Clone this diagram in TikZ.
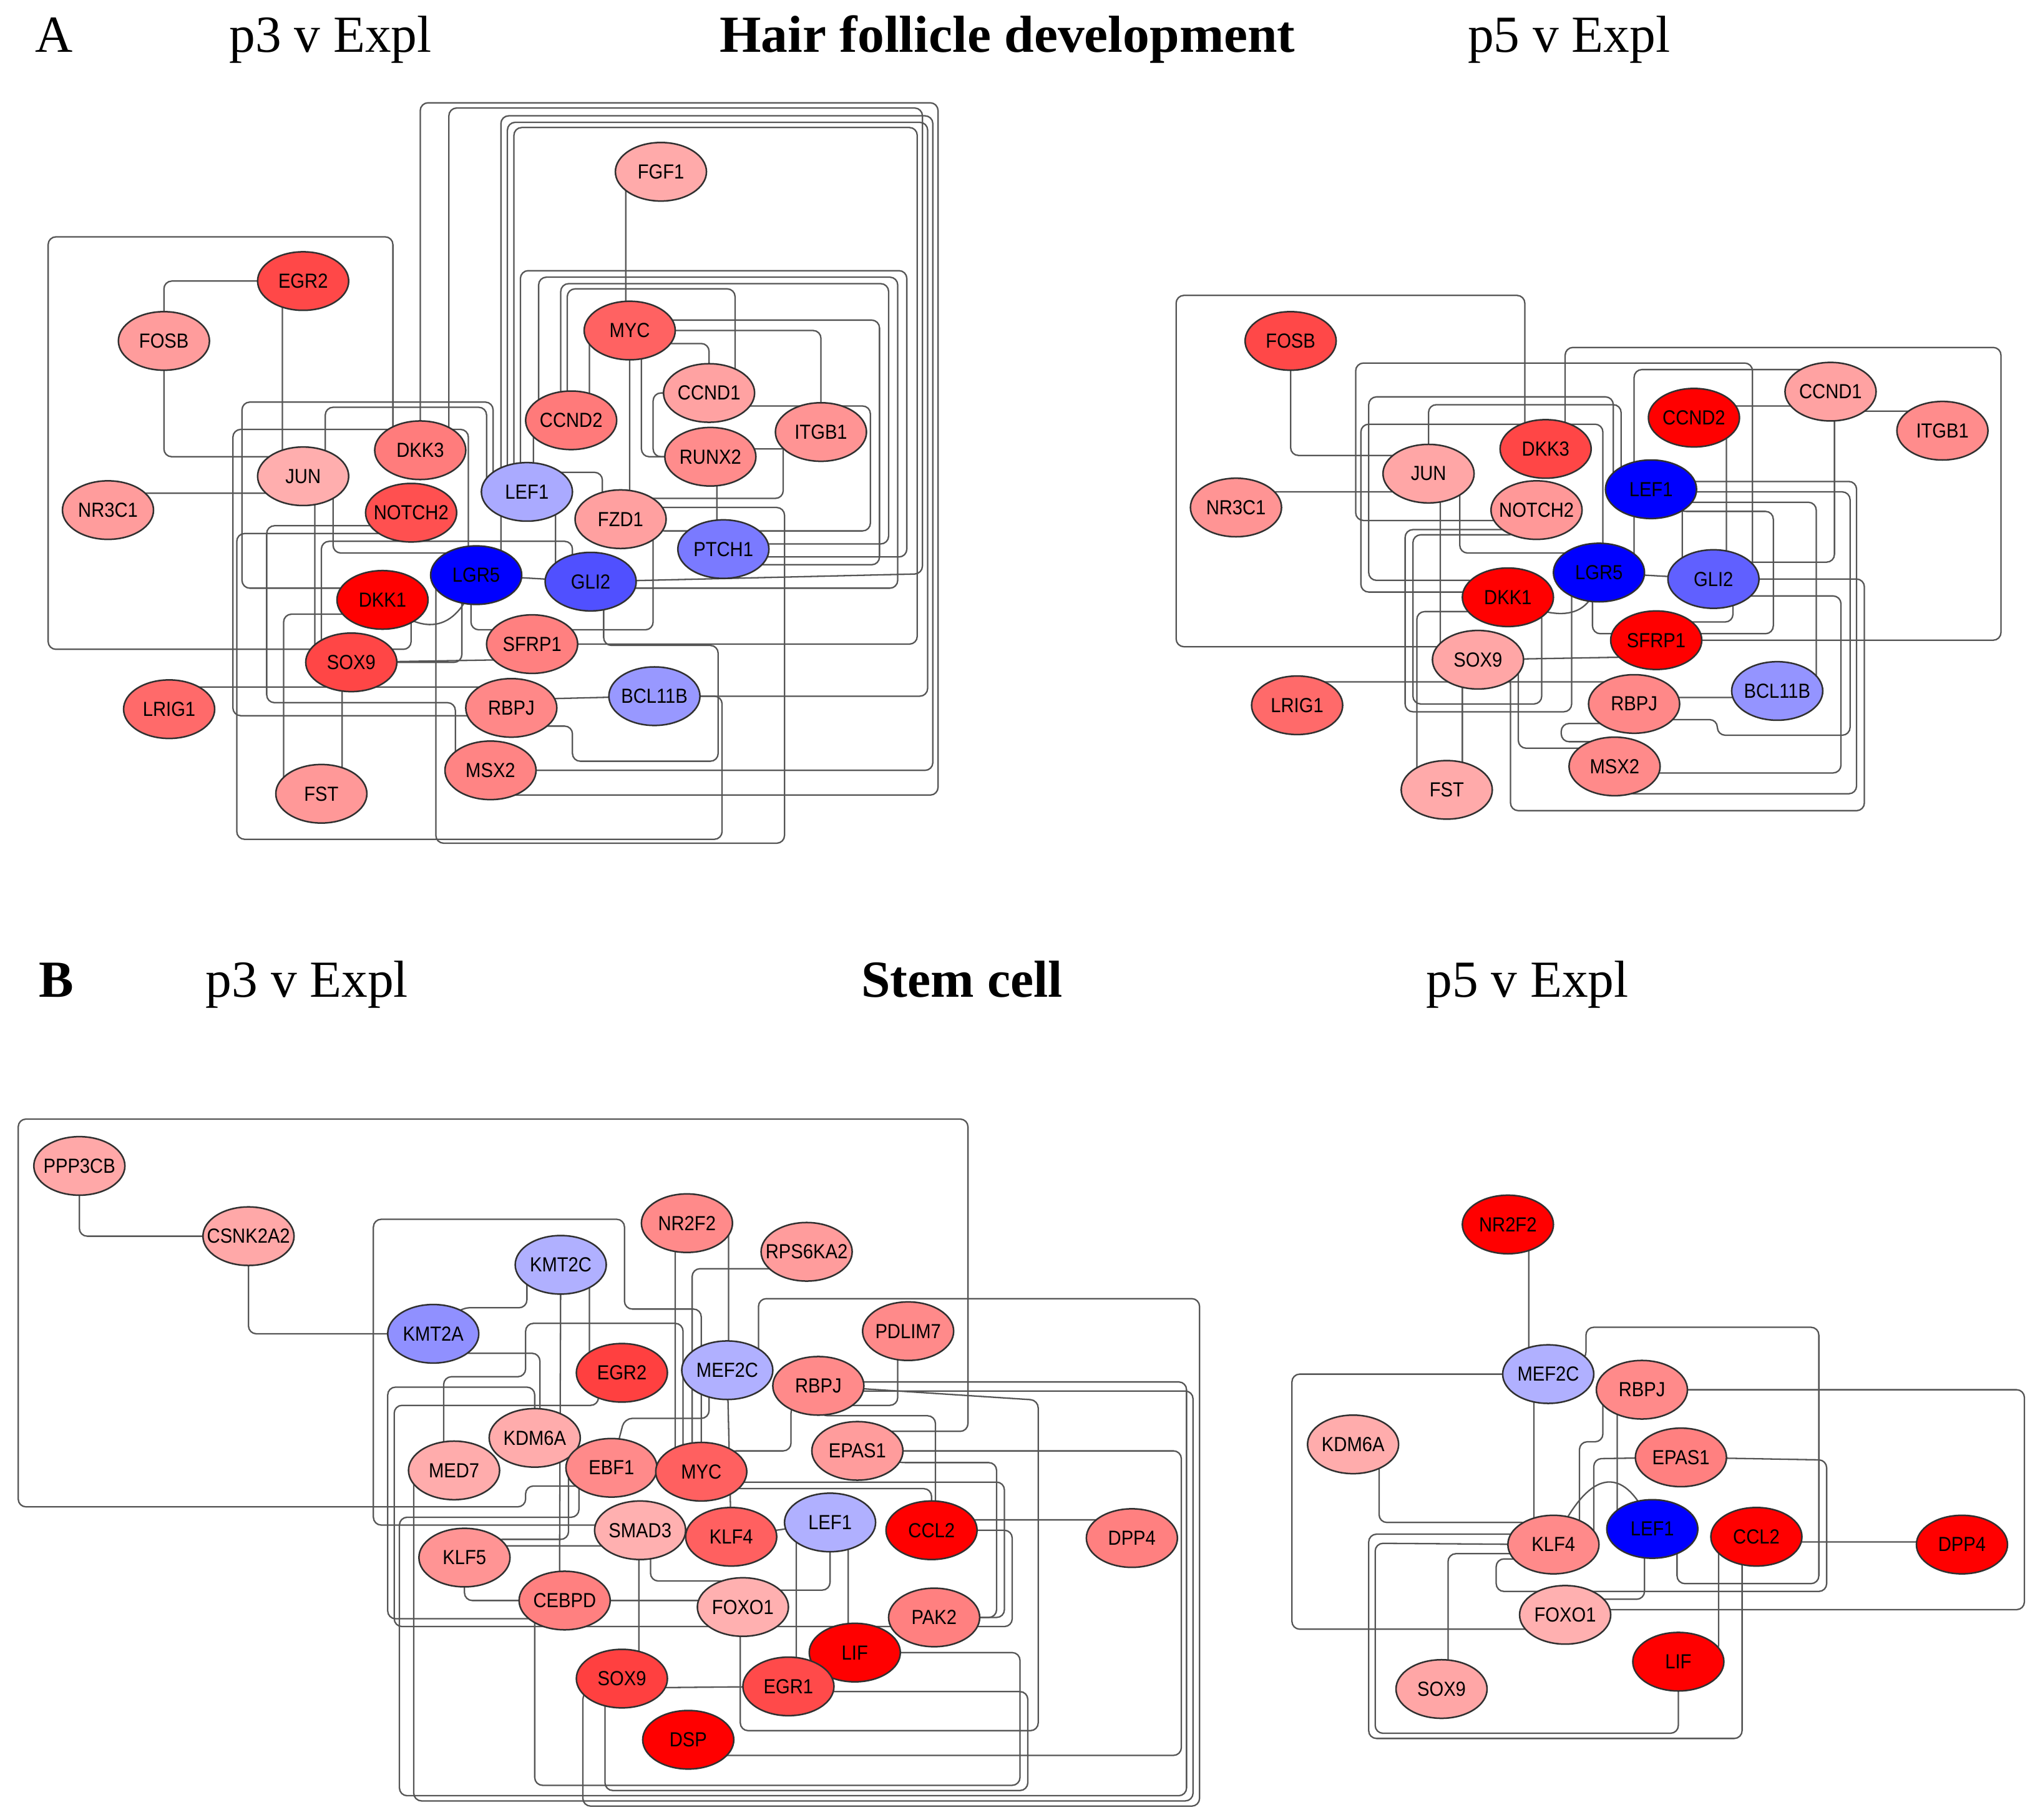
\documentclass[tikz,border=0pt]{standalone}
\usepackage{fontspec}
\setmainfont{Liberation Serif}
\newfontfamily\genefont{Liberation Sans}
\usetikzlibrary{shapes.geometric,backgrounds}
\definecolor{edgec}{HTML}{555555}
\definecolor{rimc}{HTML}{303030}
\tikzset{
  gene/.style={ellipse, draw=rimc, line width=1.2pt, minimum width=70pt, minimum height=45pt, inner sep=0pt, text=black, font=\genefont\fontsize{14}{16}\selectfont},
  ln/.style={draw=edgec, line width=1.1pt, rounded corners=6pt},
  ttl/.style={anchor=base west, inner sep=0pt, font=\fontsize{40}{48}\selectfont},
}
\newcommand\genenode[4]{\definecolor{gtmp}{HTML}{#4}\node[gene,fill=gtmp] (#1) at (#2) {\makebox[0pt]{\scalebox{1}[1.12]{#3}}};}
\begin{document}
\begin{tikzpicture}[x=1pt,y=-1pt]
\useasboundingbox (0,0) rectangle (1568,1398.2);
% ---------------- titles
\node[ttl] (tA) at (27,40) {A};
\node[ttl] (tA3) at (176,40) {p3 v Expl};
\node[ttl] (tAm) at (553,40) {\scalebox{1.026}[1]{\bfseries Hair follicle development}};
\node[ttl] (tA5) at (1128,40) {p5 v Expl};
\node[ttl] (tB) at (30,766) {\bfseries B};
\node[ttl] (tB3) at (158,766) {p3 v Expl};
\node[ttl] (tBm) at (662,766) {\bfseries Stem cell};
\node[ttl] (tB5) at (1096,766) {p5 v Expl};
% ---------------- A p3 nodes
\genenode{a3FGF1}{508,132}{FGF1}{FFAAAA}
\genenode{a3EGR2}{233,216}{EGR2}{FF4848}
\genenode{a3FOSB}{126,262}{FOSB}{FF9C9C}
\genenode{a3MYC}{484,254}{MYC}{FF6262}
\genenode{a3CCND1}{545,302}{CCND1}{FFA2A2}
\genenode{a3CCND2}{439,323}{CCND2}{FF7A7A}
\genenode{a3ITGB1}{631,332}{ITGB1}{FF9494}
\genenode{a3RUNX2}{546,351}{RUNX2}{FF8C8C}
\genenode{a3DKK3}{323,346}{DKK3}{FF7C7C}
\genenode{a3JUN}{233,366}{JUN}{FFAEAE}
\genenode{a3NR3C1}{83,392}{NR3C1}{FF9C9C}
\genenode{a3LEF1}{405,378}{LEF1}{AAAAFF}
\genenode{a3NOTCH2}{316,394}{NOTCH2}{FF5050}
\genenode{a3FZD1}{477,399}{FZD1}{FFA0A0}
\genenode{a3PTCH1}{556,422}{PTCH1}{7A7AFF}
\genenode{a3DKK1}{294,461}{DKK1}{FF0000}
\genenode{a3LGR5}{366,442}{LGR5}{0000FF}
\genenode{a3GLI2}{454,447}{GLI2}{5050FF}
\genenode{a3SFRP1}{409,495}{SFRP1}{FF8080}
\genenode{a3SOX9}{270,509}{SOX9}{FF4646}
\genenode{a3LRIG1}{130,545}{LRIG1}{FF6A6A}
\genenode{a3RBPJ}{393,544}{RBPJ}{FF8888}
\genenode{a3BCL11B}{503,535}{BCL11B}{9898FF}
\genenode{a3FST}{247,610}{FST}{FF9898}
\genenode{a3MSX2}{377,592}{MSX2}{FF8484}
% ---------------- A p5 nodes
\genenode{a5FOSB}{992,262}{FOSB}{FF4848}
\genenode{a5CCND1}{1407,301}{CCND1}{FFA2A2}
\genenode{a5ITGB1}{1493,331}{ITGB1}{FF8C8C}
\genenode{a5CCND2}{1302,321}{CCND2}{FF0000}
\genenode{a5DKK3}{1188,345}{DKK3}{FF4646}
\genenode{a5JUN}{1098,364}{JUN}{FFA6A6}
\genenode{a5NR3C1}{950,390}{NR3C1}{FF9494}
\genenode{a5NOTCH2}{1181,392}{NOTCH2}{FF9898}
\genenode{a5LEF1}{1269,376}{LEF1}{0000FF}
\genenode{a5LGR5}{1229,440}{LGR5}{0000FF}
\genenode{a5GLI2}{1317,445}{GLI2}{6060FF}
\genenode{a5DKK1}{1159,459}{DKK1}{FF0000}
\genenode{a5SFRP1}{1273,492}{SFRP1}{FF0000}
\genenode{a5SOX9}{1136,507}{SOX9}{FFA6A6}
\genenode{a5LRIG1}{997,542}{LRIG1}{FF6A6A}
\genenode{a5RBPJ}{1256,541}{RBPJ}{FF8888}
\genenode{a5BCL11B}{1366,531}{BCL11B}{9494FF}
\genenode{a5MSX2}{1241,589}{MSX2}{FF8A8A}
\genenode{a5FST}{1112,607}{FST}{FFAAAA}
% ---------------- B p3 nodes
\genenode{b3PPP3CB}{61,896}{PPP3CB}{FFA8A8}
\genenode{b3CSNK2A2}{191,950}{CSNK2A2}{FFA8A8}
\genenode{b3KMT2C}{431,972}{KMT2C}{B0B0FF}
\genenode{b3KMT2A}{333,1025}{KMT2A}{9090FF}
\genenode{b3NR2F2}{528,940}{NR2F2}{FF8A8A}
\genenode{b3RPS6KA2}{620,962}{RPS6KA2}{FF9C9C}
\genenode{b3PDLIM7}{698,1023}{PDLIM7}{FF8A8A}
\genenode{b3EGR2}{478,1055}{EGR2}{FF4040}
\genenode{b3MEF2C}{559,1053}{MEF2C}{B0B0FF}
\genenode{b3RBPJ}{629,1065}{RBPJ}{FF8A8A}
\genenode{b3KDM6A}{411,1105}{KDM6A}{FFACAC}
\genenode{b3MED7}{349,1130}{MED7}{FFACAC}
\genenode{b3EBF1}{470,1128}{EBF1}{FF8A8A}
\genenode{b3MYC}{539,1131}{MYC}{FF6060}
\genenode{b3EPAS1}{659,1115}{EPAS1}{FF9C9C}
\genenode{b3KLF5}{357,1197}{KLF5}{FF9494}
\genenode{b3SMAD3}{492,1176}{SMAD3}{FFB0B0}
\genenode{b3KLF4}{562,1181}{KLF4}{FF6060}
\genenode{b3LEF1}{638,1170}{LEF1}{B0B0FF}
\genenode{b3CCL2}{716,1176}{CCL2}{FF0000}
\genenode{b3DPP4}{870,1182}{DPP4}{FF8080}
\genenode{b3CEBPD}{434,1230}{CEBPD}{FF8080}
\genenode{b3FOXO1}{571,1235}{FOXO1}{FFB0B0}
\genenode{b3PAK2}{718,1243}{PAK2}{FF8080}
\genenode{b3LIF}{657,1270}{LIF}{FF0000}
\genenode{b3SOX9}{478,1290}{SOX9}{FF4040}
\genenode{b3EGR1}{606,1296}{EGR1}{FF4A4A}
\genenode{b3DSP}{529,1337}{DSP}{FF0000}
% ---------------- B p5 nodes
\genenode{b5NR2F2}{1159,941}{NR2F2}{FF0000}
\genenode{b5MEF2C}{1190,1056}{MEF2C}{B0B0FF}
\genenode{b5RBPJ}{1262,1068}{RBPJ}{FF8A8A}
\genenode{b5KDM6A}{1040,1110}{KDM6A}{FFACAC}
\genenode{b5EPAS1}{1292,1120}{EPAS1}{FF8080}
\genenode{b5LEF1}{1270,1175}{LEF1}{0000FF}
\genenode{b5CCL2}{1350,1181}{CCL2}{FF0000}
\genenode{b5DPP4}{1508,1187}{DPP4}{FF0000}
\genenode{b5KLF4}{1194,1187}{KLF4}{FF8A8A}
\genenode{b5FOXO1}{1203,1241}{FOXO1}{FFB0B0}
\genenode{b5LIF}{1290,1277}{LIF}{FF0000}
\genenode{b5SOX9}{1108,1298}{SOX9}{FFA6A6}
% ================= connectors
\begin{pgfonlayer}{background}
\fill[white] (0,0) rectangle (1568,1398.2);
% ---- A p3
\draw[ln] (a3FOSB.center) |- (a3EGR2.center);
\draw[ln] (a3EGR2.center) -- (217,216) -- (217,366) -- (a3JUN.center);
\draw[ln] (a3FOSB.center) -- (126,351) -- (215,351) -- (a3JUN.center);
\draw[ln] (a3NR3C1.center) -- (100,379) -- (215,379) -- (a3JUN.center);
\draw[ln] (a3DKK3.center) -- (302,346) -- (302,182) -- (37,182) -- (37,499) -- (316,499) -- (316,461) -- (a3DKK1.center);
\draw[ln] (a3LRIG1.center) -- (140,528) -- (380,528) -- (a3RBPJ.center);
\draw[ln] (a3SOX9.center) -- (263,509) -- (263,610) -- (a3FST.center);
\draw[ln] (a3FST.center) -- (218,610) -- (218,472) -- (280,472) -- (a3DKK1.center);
\draw[ln] (a3JUN.center) -- (242,366) -- (242,509) -- (a3SOX9.center);
\draw[ln] (a3JUN.center) -- (256,366) -- (256,425) -- (366,425) -- (a3LGR5.center);
\draw[ln] (a3FGF1.center) -- (481,132) -- (481,254) -- (a3MYC.center);
\draw[ln] (a3JUN.center) -- (250,366) -- (250,313) -- (374,313) -- (374,378) -- (a3LEF1.center);
\draw[ln] (a3LEF1.center) -- (379,378) -- (379,309) -- (186,309) -- (186,452) -- (280,452) -- (a3DKK1.center);
\draw[ln] (a3LGR5.center) -- (360,442) -- (360,330) -- (179,330) -- (179,550) -- (380,550) -- (a3RBPJ.center);
\draw[ln] (a3NOTCH2.center) -- (300,410) -- (182,410) -- (182,645) -- (555,645) -- (555,535) -- (a3BCL11B.center);
\draw[ln] (a3NOTCH2.center) -- (300,404) -- (205,404) -- (205,540) -- (350,540) -- (350,592) -- (a3MSX2.center);
\draw[ln] (a3SOX9.center) -- (247,509) -- (247,416) -- (440,416) -- (440,447) -- (a3GLI2.center);
\draw[ln] (a3LGR5.center) -- (355,442) -- (355,509) -- (a3SOX9.center);
\draw[ln] (a3LGR5.center) -- (a3GLI2.center);
\draw[ln] (a3LGR5.center) -- (362,442) -- (362,484) -- (502,484) -- (502,399) -- (a3FZD1.center);
\draw[ln] (a3GLI2.center) -- (464,447) -- (464,496) -- (552,496) -- (552,585) -- (440,585) -- (440,558) -- (415,558) -- (a3RBPJ.center);
\draw[ln] (a3RBPJ.center) -- (420,537) -- (a3BCL11B.center);
\draw[ln] (a3BCL11B.center) -- (713,535) -- (713,94) -- (390,94) -- (390,378) -- (a3LEF1.center);
\draw[ln] (a3MSX2.center) -- (717,592) -- (717,89) -- (385,89) -- (385,442) -- (a3LGR5.center);
\draw[ln] (a3DKK3.center) -- (323,79) -- (721,79) -- (721,611) -- (377,611) -- (a3MSX2.center);
\draw[ln] (a3DKK3.center) -- (345,346) -- (345,83) -- (709,83) -- (709,441) -- (a3GLI2.center);
\draw[ln] (a3SFRP1.center) -- (705,495) -- (705,98) -- (395,98) -- (395,378) -- (a3LEF1.center);
\draw[ln] (a3LEF1.center) -- (400,378) -- (400,208) -- (697,208) -- (697,428) -- (575,428) -- (a3PTCH1.center);
\draw[ln] (a3CCND2.center) -- (414,323) -- (414,213) -- (690,213) -- (690,452) -- (460,452) -- (a3GLI2.center);
\draw[ln] (a3CCND2.center) -- (431,323) -- (431,218) -- (683,218) -- (683,418) -- (570,418) -- (a3PTCH1.center);
\draw[ln] (a3MYC.center) -- (453,254) -- (453,323) -- (a3CCND2.center);
\draw[ln] (a3MYC.center) -- (631,254) -- (a3ITGB1.center);
\draw[ln] (a3MYC.center) -- (510,246) -- (676,246) -- (676,434) -- (580,434) -- (a3PTCH1.center);
\draw[ln] (a3MYC.center) -- (508,264) -- (545,264) -- (a3CCND1.center);
\draw[ln] (a3MYC.center) -- (493,254) -- (493,351) -- (a3RUNX2.center);
\draw[ln] (a3MYC.center) -- (484,399) -- (a3FZD1.center);
\draw[ln] (a3CCND1.center) -- (570,312) -- (669,312) -- (669,408) -- (505,408) -- (a3FZD1.center);
\draw[ln] (a3CCND1.center) -- (502,302) -- (502,351) -- (a3RUNX2.center);
\draw[ln] (a3CCND1.center) -- (565,302) -- (565,222) -- (436,222) -- (436,323) -- (a3CCND2.center);
\draw[ln] (a3RUNX2.center) -- (575,345) -- (605,345) -- (a3ITGB1.center);
\draw[ln] (a3ITGB1.center) -- (602,332) -- (602,383) -- (495,383) -- (a3FZD1.center);
\draw[ln] (a3RUNX2.center) -- (551,351) -- (551,422) -- (a3PTCH1.center);
\draw[ln] (a3LEF1.center) -- (410,378) -- (410,323) -- (a3CCND2.center);
\draw[ln] (a3LEF1.center) -- (427,378) -- (427,447) -- (a3GLI2.center);
\draw[ln] (a3LEF1.center) -- (420,363) -- (463,363) -- (463,399) -- (a3FZD1.center);
\draw[ln] (a3FZD1.center) -- (500,390) -- (603,390) -- (603,648) -- (335,648) -- (335,442) -- (a3LGR5.center);
\draw[ln] (a3SOX9.center) -- (390,507) -- (a3SFRP1.center);
\draw[ln] (a3DKK1.center) .. controls (330,495) and (355,480) .. (a3LGR5.center);
% ---- A p5
\draw[ln] (a5DKK3.center) -- (1172,345) -- (1172,227) -- (904,227) -- (904,497) -- (1120,497) -- (a5SOX9.center);
\draw[ln] (a5FOSB.center) -- (992,350) -- (1075,350) -- (a5JUN.center);
\draw[ln] (a5NR3C1.center) -- (965,378) -- (1080,378) -- (a5JUN.center);
\draw[ln] (a5DKK3.center) -- (1203,345) -- (1203,267) -- (1538,267) -- (1538,492) -- (a5SFRP1.center);
\draw[ln] (a5NOTCH2.center) -- (1165,400) -- (1042,400) -- (1042,279) -- (1347,279) -- (1347,445) -- (a5GLI2.center);
\draw[ln] (a5CCND2.center) -- (1320,312) -- (1385,312) -- (a5CCND1.center);
\draw[ln] (a5CCND1.center) -- (1420,316) -- (1475,316) -- (a5ITGB1.center);
\draw[ln] (a5CCND1.center) -- (1407,284) -- (1256,284) -- (1256,440) -- (a5LGR5.center);
\draw[ln] (a5CCND1.center) -- (1410,301) -- (1410,432) -- (1330,432) -- (a5GLI2.center);
\draw[ln] (a5CCND2.center) -- (1327,321) -- (1327,445) -- (a5GLI2.center);
\draw[ln] (a5LEF1.center) -- (1293,376) -- (1293,445) -- (a5GLI2.center);
\draw[ln] (a5LEF1.center) -- (1290,393) -- (1363,393) -- (1363,487) -- (1290,487) -- (a5SFRP1.center);
\draw[ln] (a5LEF1.center) -- (1290,378) -- (1422,378) -- (1422,565) -- (1320,565) -- (1320,553) -- (1270,553) -- (a5RBPJ.center);
\draw[ln] (a5LEF1.center) -- (1290,370) -- (1427,370) -- (1427,610) -- (1250,610) -- (a5MSX2.center);
\draw[ln] (a5LGR5.center) -- (a5GLI2.center);
\draw[ln] (a5GLI2.center) -- (1332,445) -- (1332,478) -- (1295,478) -- (a5SFRP1.center);
\draw[ln] (a5GLI2.center) -- (1433,445) -- (1433,623) -- (1161,623) -- (1161,520) -- (a5SOX9.center);
\draw[ln] (a5GLI2.center) -- (1340,458) -- (1415,458) -- (1415,594) -- (1250,594) -- (a5MSX2.center);
\draw[ln] (a5RBPJ.center) -- (1280,536) -- (1340,536) -- (a5BCL11B.center);
\draw[ln] (a5BCL11B.center) -- (1396,531) -- (1396,386) -- (1290,386) -- (a5LEF1.center);
\draw[ln] (a5RBPJ.center) -- (1250,556) -- (1200,556) -- (1200,570) -- (1235,570) -- (a5MSX2.center);
\draw[ln] (a5LRIG1.center) -- (1010,524) -- (1240,524) -- (a5RBPJ.center);
\draw[ln] (a5SOX9.center) -- (1124,507) -- (1124,607) -- (a5FST.center);
\draw[ln] (a5FST.center) -- (1089,607) -- (1089,470) -- (1140,470) -- (a5DKK1.center);
\draw[ln] (a5SOX9.center) -- (1250,505) -- (a5SFRP1.center);
\draw[ln] (a5DKK1.center) .. controls (1200,480) and (1225,475) .. (a5LGR5.center);
\draw[ln] (a5LGR5.center) -- (1224,440) -- (1224,487) -- (1255,487) -- (a5SFRP1.center);
\draw[ln] (a5JUN.center) -- (1122,364) -- (1122,425) -- (1215,425) -- (a5LGR5.center);
\draw[ln] (a5JUN.center) -- (1107,364) -- (1107,507) -- (a5SOX9.center);
\draw[ln] (a5JUN.center) -- (1098,311) -- (1246,311) -- (1246,376) -- (a5LEF1.center);
\draw[ln] (a5DKK1.center) -- (1135,446) -- (1052,446) -- (1052,305) -- (1240,305) -- (1240,376) -- (a5LEF1.center);
\draw[ln] (a5DKK1.center) -- (1140,455) -- (1046,455) -- (1046,326) -- (1232,326) -- (1232,440) -- (a5LGR5.center);
\draw[ln] (a5NOTCH2.center) -- (1160,407) -- (1080,407) -- (1080,547) -- (1208,547) -- (1208,450) -- (a5LGR5.center);
\draw[ln] (a5NOTCH2.center) -- (1165,411) -- (1086,411) -- (1086,541) -- (1185,541) -- (1185,470) -- (a5DKK1.center);
\draw[ln] (a5SOX9.center) -- (1167,507) -- (1167,575) -- (1228,575) -- (a5MSX2.center);
% ---- B p3
\draw[ln] (b3EBF1.center) -- (450,1142) -- (404,1142) -- (404,1158) -- (14,1158) -- (14,860) -- (744,860) -- (744,1100) -- (680,1100) -- (b3EPAS1.center);
\draw[ln] (b3PPP3CB.center) |- (b3CSNK2A2.center);
\draw[ln] (b3CSNK2A2.center) |- (b3KMT2A.center);
\draw[ln] (b3KMT2C.center) -- (405,972) -- (405,1005) -- (355,1005) -- (b3KMT2A.center);
\draw[ln] (b3SMAD3.center) -- (470,1172) -- (287,1172) -- (287,937) -- (480,937) -- (480,1006) -- (539,1006) -- (b3MYC.center);
\draw[ln] (b3KMT2A.center) -- (355,1040) -- (415,1040) -- (415,1100) -- (b3KDM6A.center);
\draw[ln] (b3KMT2C.center) -- (430,1230) -- (b3CEBPD.center);
\draw[ln] (b3KMT2C.center) -- (453,972) -- (453,1055) -- (b3EGR2.center);
\draw[ln] (b3MED7.center) -- (341,1130) -- (341,1058) -- (404,1058) -- (404,1017) -- (525,1017) -- (525,1131) -- (b3MYC.center);
\draw[ln] (b3KDM6A.center) -- (411,1066) -- (298,1066) -- (298,1244) -- (420,1244) -- (b3CEBPD.center);
\draw[ln] (b3EGR2.center) -- (460,1055) -- (460,1080) -- (303,1080) -- (303,1250) -- (778,1250) -- (778,1176) -- (b3CCL2.center);
\draw[ln] (b3EBF1.center) -- (445,1128) -- (445,1166) -- (307,1166) -- (307,1380) -- (912,1380) -- (912,1062) -- (640,1062) -- (b3RBPJ.center);
\draw[ln] (b3MED7.center) -- (318,1130) -- (318,1384) -- (917,1384) -- (917,1069) -- (640,1069) -- (b3RBPJ.center);
\draw[ln] (b3KLF5.center) |- (b3CEBPD.center);
\draw[ln] (b3KLF5.center) -- (360,1188) -- (470,1188) -- (b3SMAD3.center);
\draw[ln] (b3KLF5.center) -- (380,1183) -- (437,1183) -- (437,1105) -- (b3KDM6A.center);
\draw[ln] (b3CEBPD.center) -- (560,1230) -- (b3FOXO1.center);
\draw[ln] (b3CEBPD.center) -- (411,1230) -- (411,1372) -- (784,1372) -- (784,1270) -- (b3LIF.center);
\draw[ln] (b3SOX9.center) -- (465,1290) -- (465,1376) -- (790,1376) -- (790,1300) -- (630,1300) -- (b3EGR1.center);
\draw[ln] (b3SOX9.center) -- (500,1297) -- (b3EGR1.center);
\draw[ln] (b3SOX9.center) -- (491,1290) -- (491,1176) -- (b3SMAD3.center);
\draw[ln] (b3RPS6KA2.center) -- (600,975) -- (532,975) -- (532,1131) -- (b3MYC.center);
\draw[ln] (b3NR2F2.center) -- (560,940) -- (560,1053) -- (b3MEF2C.center);
\draw[ln] (b3NR2F2.center) -- (519,940) -- (519,1131) -- (b3MYC.center);
\draw[ln] (b3MEF2C.center) -- (583,1053) -- (583,998) -- (922,998) -- (922,1388) -- (448,1388) -- (448,1300) -- (b3SOX9.center);
\draw[ln] (b3PDLIM7.center) -- (690,1023) -- (690,1080) -- (645,1080) -- (b3RBPJ.center);
\draw[ln] (b3EPAS1.center) -- (690,1124) -- (766,1124) -- (766,1243) -- (b3PAK2.center);
\draw[ln] (b3CCL2.center) -- (730,1168) -- (855,1168) -- (b3DPP4.center);
\draw[ln] (b3CCL2.center) -- (719,1176) -- (719,1088) -- (630,1088) -- (b3RBPJ.center);
\draw[ln] (b3LEF1.center) -- (638,1222) -- (595,1222) -- (b3FOXO1.center);
\draw[ln] (b3LEF1.center) -- (652,1170) -- (652,1270) -- (b3LIF.center);
\draw[ln] (b3LEF1.center) -- (612,1178) -- (612,1296) -- (b3EGR1.center);
\draw[ln] (b3LEF1.center) -- (b3KLF4.center);
\draw[ln] (b3MYC.center) -- (565,1139) -- (772,1139) -- (772,1243) -- (b3PAK2.center);
\draw[ln] (b3MYC.center) -- (565,1144) -- (716,1144) -- (b3CCL2.center);
\draw[ln] (b3FOXO1.center) -- (569,1235) -- (569,1330) -- (798,1330) -- (798,1076) -- (b3RBPJ.center);
\draw[ln] (b3DSP.center) -- (550,1349) -- (908,1349) -- (908,1115) -- (b3EPAS1.center);
\draw[ln] (b3MEF2C.center) -- (545,1053) -- (545,1090) -- (480,1090) -- (b3EBF1.center);
\draw[ln] (b3RBPJ.center) -- (608,1080) -- (608,1115) -- (560,1115) -- (b3MYC.center);
\draw[ln] (b3SMAD3.center) -- (500,1176) -- (500,1215) -- (560,1215) -- (b3FOXO1.center);
\draw[ln] (b3MEF2C.center) -- (b3KLF4.center);
% ---- B p5
\draw[ln] (b5NR2F2.center) -- (1175,941) -- (1175,1056) -- (b5MEF2C.center);
\draw[ln] (b5MEF2C.center) -- (1179,1056) -- (1179,1187) -- (b5KLF4.center);
\draw[ln] (b5MEF2C.center) -- (993,1056) -- (993,1252) -- (1185,1252) -- (b5FOXO1.center);
\draw[ln] (b5KDM6A.center) -- (1060,1110) -- (1060,1170) -- (1175,1170) -- (b5KLF4.center);
\draw[ln] (b5MEF2C.center) -- (1219,1045) -- (1219,1020) -- (1398,1020) -- (1398,1217) -- (1289,1217) -- (1289,1175) -- (b5LEF1.center);
\draw[ln] (b5RBPJ.center) -- (1556,1068) -- (1556,1237) -- (1225,1237) -- (b5FOXO1.center);
\draw[ln] (b5RBPJ.center) -- (1232,1068) -- (1232,1108) -- (1214,1108) -- (1214,1187) -- (b5KLF4.center);
\draw[ln] (b5RBPJ.center) -- (1243,1068) -- (1243,1175) -- (b5LEF1.center);
\draw[ln] (b5EPAS1.center) -- (1225,1121) -- (1225,1187) -- (b5KLF4.center);
\draw[ln] (b5EPAS1.center) -- (1404,1122) -- (1404,1223) -- (1150,1223) -- (1150,1198) -- (1175,1198) -- (b5KLF4.center);
\draw[ln] (b5LEF1.center) -- (1264,1175) -- (1264,1229) -- (1225,1229) -- (b5FOXO1.center);
\draw[ln] (b5CCL2.center) -- (1370,1185) -- (1490,1185) -- (b5DPP4.center);
\draw[ln] (b5CCL2.center) -- (1321,1181) -- (1321,1270) -- (b5LIF.center);
\draw[ln] (b5CCL2.center) -- (1339,1181) -- (1339,1336) -- (1052,1336) -- (1052,1179) -- (1170,1179) -- (b5KLF4.center);
\draw[ln] (b5LIF.center) -- (1290,1332) -- (1057,1332) -- (1057,1186) -- (b5KLF4.center);
\draw[ln] (b5SOX9.center) -- (1113,1298) -- (1113,1194) -- (1170,1194) -- (b5KLF4.center);
\draw[ln] (b5KLF4.center) .. controls (1222,1125) and (1250,1125) .. (b5LEF1.center);
\end{pgfonlayer}
\end{tikzpicture}
\end{document}
